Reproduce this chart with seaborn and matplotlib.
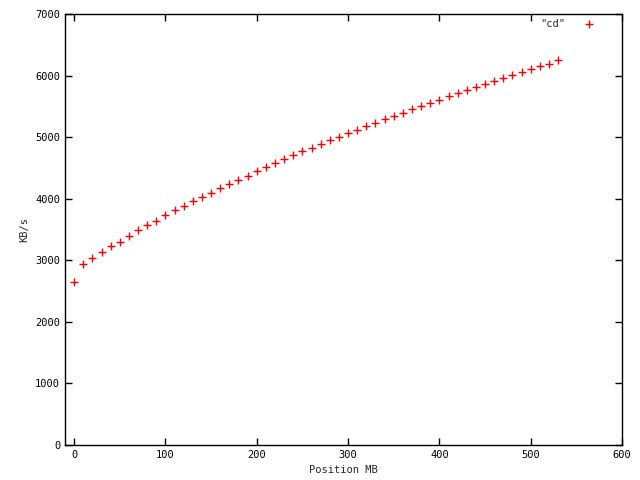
import pandas as pd
import matplotlib
matplotlib.use('Agg')
import matplotlib.pyplot as plt
import seaborn as sns

# Position (MB) and throughput (KB/s)
position = list(range(0, 540, 10))
kbps = [2640, 2933, 3030, 3130, 3225, 3305, 3400, 3485, 3565, 3645,
        3730, 3810, 3875, 3955, 4035, 4100, 4170, 4245, 4300, 4370,
        4443, 4508, 4573, 4638, 4703, 4768, 4817, 4882, 4947, 4995,
        5060, 5110, 5175, 5222, 5287, 5336, 5385, 5450, 5498, 5547,
        5596, 5661, 5710, 5758, 5807, 5856, 5904, 5953, 6006, 6050,
        6099, 6148, 6196, 6245]

data = pd.DataFrame({'Position MB': position, 'KB/s': kbps})

sns.set_style('ticks')
plt.rcParams['font.family'] = ['DejaVu Sans Mono']
plt.rcParams['font.size'] = 7.5

fig = plt.figure(figsize=(6.4, 4.8), dpi=100)
ax = fig.add_axes([65 / 640, 1 - 445 / 480, 557 / 640, 431 / 480])

sns.scatterplot(data=data, x='Position MB', y='KB/s', marker='+', color='red',
                s=28, linewidth=1.0, label='"cd"', ax=ax)

ax.set_xlim(-10, 600)
ax.set_ylim(0, 7000)
ax.set_xticks(range(0, 601, 100))
ax.set_yticks(range(0, 7001, 1000))
ax.tick_params(direction='in', top=True, right=True, length=5, width=1, colors='black')
for side in ax.spines.values():
    side.set_visible(True)
    side.set_linewidth(1)
    side.set_color('black')
ax.set_xlabel('Position MB')
ax.set_ylabel('KB/s')

ax.legend(loc='upper right', frameon=False, markerfirst=False, handlelength=1.0,
          handletextpad=1.8, bbox_to_anchor=(0.961, 1.003), borderaxespad=0.2)

fig.savefig('out.png', dpi=100)
